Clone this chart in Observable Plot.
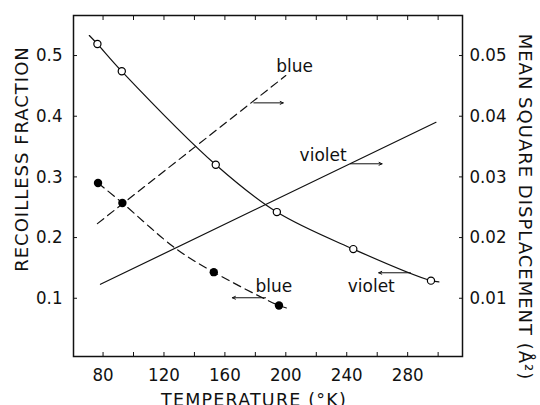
<!DOCTYPE html>
<html><head><meta charset="utf-8">
<script src="https://cdn.jsdelivr.net/npm/d3@7"></script>
<script src="https://cdn.jsdelivr.net/npm/@observablehq/plot@0.6"></script>
<style>body{margin:0;background:#fff;} svg{display:block}</style>
</head><body><div id="chart"></div>
<script>
// Recoilless fraction, violet (open circles, solid curve)
const violetT = [76.3, 92.3, 154, 194.1, 244.3, 295.3];
const violetF = [0.519, 0.474, 0.320, 0.242, 0.181, 0.129];
const violetCurveT = [71, 76.3, 92.3, 154, 194.1, 244.3, 295.3, 300.5];
const violetCurveF = [0.533, 0.519, 0.474, 0.320, 0.242, 0.181, 0.129, 0.127];
// Recoilless fraction, blue (filled circles, dashed curve)
const blueT = [76.7, 92.7, 152.7, 195.5];
const blueF = [0.290, 0.257, 0.143, 0.088];
const blueCurveT = [76.7, 92.7, 127.7, 152.7, 195.5, 200.4];
const blueCurveF = [0.290, 0.257, 0.182, 0.143, 0.088, 0.084];
// Mean square displacement (right axis, Å²)
const blueMsdT = [76.3, 200];
const blueMsd = [0.0223, 0.0467];
const violetMsdT = [78.3, 298.6];
const violetMsd = [0.0123, 0.0390];
const msdFactor = 10; // right axis = left axis / 10
// Ticks
const xTickLabels = [80, 120, 160, 200, 240, 280];
const xMinorTicks = [80, 100, 120, 140, 160, 180, 200, 220, 240, 260, 280, 300];
const leftTicks = [0.1, 0.2, 0.3, 0.4, 0.5];
const rightTicks = [0.01, 0.02, 0.03, 0.04, 0.05];
// Annotations
const labelNames = ["blue", "violet", "blue", "violet"];
const labelT = [205.7, 224.5, 192.1, 256.1];
const labelV = [0.4736, 0.327, 0.111, 0.111];
const arrowT1 = [179, 242.4, 186.7, 281.8];
const arrowT2 = [198.3, 263.2, 164.9, 261];
const arrowV = [0.422, 0.3216, 0.1008, 0.142];

const zip = (xs, ys) => xs.map((x, i) => ({x, y: ys[i]}));
const violetPts = zip(violetT, violetF);
const violetCurve = zip(violetCurveT, violetCurveF);
const bluePts = zip(blueT, blueF);
const blueCurve = zip(blueCurveT, blueCurveF);
const blueMsdLine = blueMsdT.map((x, i) => ({x, y: blueMsd[i] * msdFactor}));
const violetMsdLine = violetMsdT.map((x, i) => ({x, y: violetMsd[i] * msdFactor}));
const labels = labelNames.map((t, i) => ({t, x: labelT[i], y: labelV[i]}));
const arrows = arrowT1.map((x1, i) => ({x1, x2: arrowT2[i], y: arrowV[i]}));

const tickFont = "DejaVu Sans Condensed, DejaVu Sans, sans-serif";

const chart = Plot.plot({
  width: 540, height: 405,
  marginLeft: 73, marginRight: 78, marginTop: 15, marginBottom: 49,
  style: {fontFamily: "DejaVu Sans", fontSize: "17px", color: "#111", background: "#fff"},
  x: {domain: [60.6, 316]},
  y: {domain: [0.004, 0.566]},
  marks: [
    Plot.frame({strokeWidth: 1.5}),
    Plot.axisX(xMinorTicks, {anchor: "bottom", tickSize: -4, tickPadding: 15, fontSize: 18.5, fontFamily: tickFont, tickFormat: d => xTickLabels.includes(d) ? String(d) : "", label: null}),
    Plot.axisX(xMinorTicks, {anchor: "top", tickSize: -4, tickFormat: () => "", label: null}),
    Plot.axisY(leftTicks, {anchor: "left", tickSize: -4, tickPadding: 15, fontSize: 18.5, fontFamily: tickFont, tickFormat: d => d.toFixed(1), label: null}),
    Plot.axisY(rightTicks.map(v => v * msdFactor), {anchor: "right", tickSize: -4, tickPadding: 11, fontSize: 18.5, fontFamily: tickFont, tickFormat: d => (d / msdFactor).toFixed(2), label: null}),
    Plot.line(violetCurve, {x: "x", y: "y", curve: "catmull-rom", strokeWidth: 1.2}),
    Plot.line(blueCurve, {x: "x", y: "y", curve: "catmull-rom", strokeWidth: 1.2, strokeDasharray: "8,5"}),
    Plot.line(blueMsdLine, {x: "x", y: "y", strokeWidth: 1.2, strokeDasharray: "8,5"}),
    Plot.line(violetMsdLine, {x: "x", y: "y", strokeWidth: 1.2}),
    Plot.dot(violetPts, {x: "x", y: "y", r: 3.6, fill: "white", stroke: "black", strokeWidth: 1.2}),
    Plot.dot(bluePts, {x: "x", y: "y", r: 4.2, fill: "black"}),
    Plot.arrow(arrows, {x1: "x1", x2: "x2", y1: "y", y2: "y", headLength: 5, headAngle: 50, strokeWidth: 1}),
    Plot.text(labels, {x: "x", y: "y", text: "t", lineAnchor: "bottom", fontSize: 17}),
    Plot.text(["RECOILLESS FRACTION"], {frameAnchor: "left", textAnchor: "middle", rotate: -90, dx: -51, dy: -27, fontSize: 18}),
    Plot.text(["MEAN SQUARE DISPLACEMENT (Å²)"], {frameAnchor: "right", textAnchor: "middle", rotate: 90, dx: 62, dy: 21, fontSize: 18}),
    Plot.text(["TEMPERATURE (°K)"], {frameAnchor: "bottom", textAnchor: "middle", dx: -14, dy: 49, lineAnchor: "bottom", fontSize: 17.5})
  ]
});
d3.select(chart).selectAll("text").each(function() {
  const t = this.textContent;
  if (t === "RECOILLESS FRACTION" || t.startsWith("MEAN SQUARE")) this.setAttribute("letter-spacing", "1");
  if (t.startsWith("TEMPERATURE")) this.setAttribute("letter-spacing", "1.2");
});
document.getElementById("chart").appendChild(chart);
</script>
</body></html>
